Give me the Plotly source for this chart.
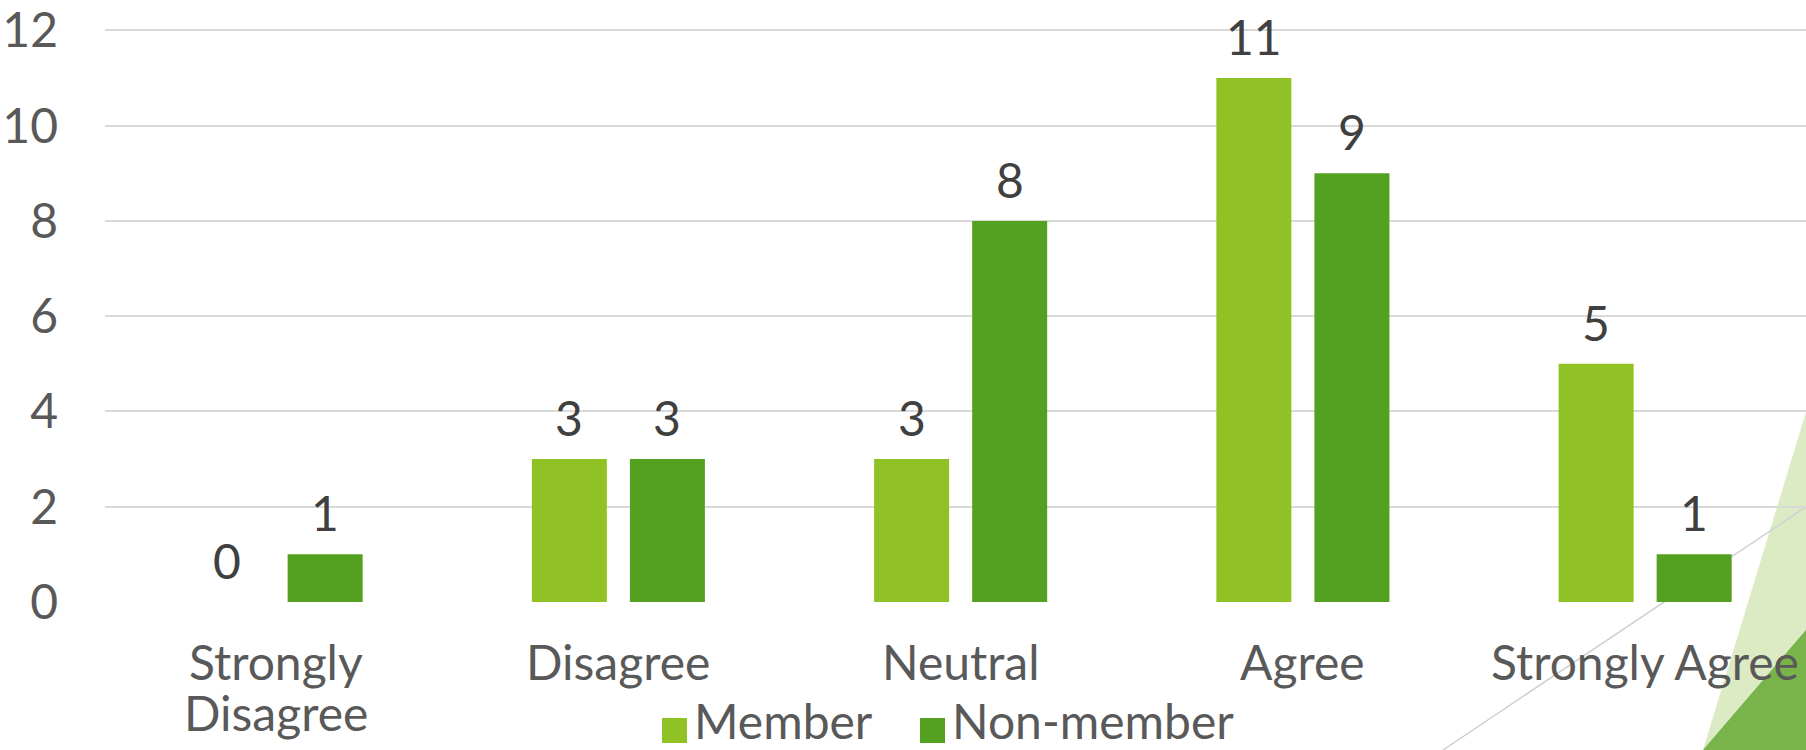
import plotly.graph_objects as go

categories = ["Strongly Disagree", "Disagree", "Neutral", "Agree", "Strongly Agree"]
category_lines = [["Strongly", "Disagree"], ["Disagree"], ["Neutral"], ["Agree"], ["Strongly Agree"]]
member = [0, 3, 3, 11, 5]
non_member = [1, 3, 8, 9, 1]
y_ticks = [0, 2, 4, 6, 8, 10, 12]
series_names = ["Member", "Non-member"]
series_colors = ["#90C226", "#54A021"]

W, H = 1806, 750
ML, MR, MT, MB = 105, 0, 29, 148
BARGAP = 0.427
FONT = "Lato"
TICK_COLOR = "#595959"

fig = go.Figure()
for name, vals, col in zip(series_names, [member, non_member], series_colors):
    fig.add_trace(go.Bar(
        name=name, x=categories, y=vals, marker=dict(color=col, line=dict(width=0)),
        showlegend=False, hoverinfo="x+y+name",
    ))

# value labels above bars
slot = (1 - BARGAP) / 2
for si, vals in enumerate([member, non_member]):
    off = (-0.5 + si) * slot
    for ci, v in enumerate(vals):
        fig.add_annotation(
            x=ci + off, y=v, xref="x", yref="y", text=str(v), showarrow=False,
            yanchor="bottom", yshift=11,
            font=dict(family=FONT, size=48, color="#404040"),
        )

# category labels (one annotation per line for tighter line spacing)
for ci, lines in enumerate(category_lines):
    for li, line in enumerate(lines):
        fig.add_annotation(
            x=ci, y=0, xref="x", yref="y", text=line, showarrow=False,
            yanchor="top", yshift=-29 - 51 * li,
            font=dict(family=FONT, size=48, color=TICK_COLOR),
        )

# paper-coordinate helpers (from pixel positions)
pw = W - ML - MR
ph = H - MT - MB
def px(xp):
    return (xp - ML) / pw
def py(yp):
    return (H - MB - yp) / ph

# decorative theme shapes
fig.add_shape(type="path", xref="paper", yref="paper", layer="below",
              path=f"M {px(1806)} {py(412)} L {px(1703)} {py(750)} L {px(1806)} {py(750)} Z",
              fillcolor="#DDEBC4", line=dict(width=0))
fig.add_shape(type="path", xref="paper", yref="paper", layer="below",
              path=f"M {px(1806)} {py(630)} L {px(1703)} {py(750)} L {px(1806)} {py(750)} Z",
              fillcolor="#79B44B", line=dict(width=0))
fig.add_shape(type="line", xref="paper", yref="paper", layer="below",
              x0=px(1443), y0=py(750), x1=px(1806), y1=py(507),
              line=dict(color="#D0D0D0", width=1.5))

# legend (swatch + label)
legend_x = [662, 920]
legend_text_x = [692, 950]
for name, col, sx, tx in zip(series_names, series_colors, legend_x, legend_text_x):
    fig.add_shape(type="rect", xref="paper", yref="paper", layer="above",
                  x0=px(sx), x1=px(sx + 25), y0=py(743), y1=py(718),
                  fillcolor=col, line=dict(width=0))
    fig.add_annotation(x=px(tx), y=py(690), xref="paper", yref="paper", text=name,
                       showarrow=False, xanchor="left", yanchor="top",
                       font=dict(family=FONT, size=48, color=TICK_COLOR))

fig.update_layout(
    width=W, height=H,
    margin=dict(l=ML, r=MR, t=MT, b=MB, autoexpand=False),
    paper_bgcolor="white", plot_bgcolor="rgba(0,0,0,0)",
    barmode="group", bargap=BARGAP, bargroupgap=0.235,
    font=dict(family=FONT, size=48, color=TICK_COLOR),
    showlegend=False,
    xaxis=dict(range=[-0.5, 4.47], showgrid=False, zeroline=False, showline=False,
               ticks="", showticklabels=False, automargin=False, fixedrange=True),
    yaxis=dict(range=[0, 12.03], tickvals=y_ticks, showgrid=True, gridcolor="#D9D9D9",
               gridwidth=2, zeroline=False, showline=False, ticks="",
               tickfont=dict(family=FONT, size=48, color=TICK_COLOR),
               ticklabelstandoff=46, ticklabeloverflow="allow",
               automargin=False, fixedrange=True),
)

fig.write_html("out.html", config={"displayModeBar": False},
               post_script="document.body.style.margin='0';")
